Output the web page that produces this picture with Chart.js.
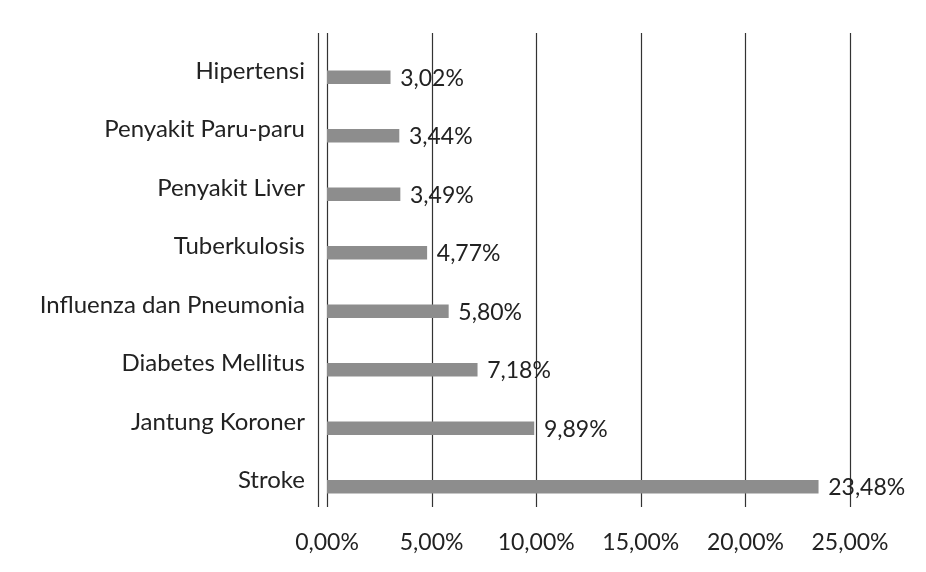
<!DOCTYPE html>
<html>
<head>
<meta charset="utf-8">
<script src="https://cdn.jsdelivr.net/npm/chart.js@4.4.1/dist/chart.umd.min.js"></script>
<style>
  html, body { margin: 0; padding: 0; background: #fff; }
  #wrap { width: 926px; height: 572px; }
</style>
</head>
<body>
<div id="wrap"><canvas id="chart" width="926" height="572"></canvas></div>
<script>
const categories = [
    "Hipertensi",
    "Penyakit Paru-paru",
    "Penyakit Liver",
    "Tuberkulosis",
    "Influenza dan Pneumonia",
    "Diabetes Mellitus",
    "Jantung Koroner",
    "Stroke",
];
const percentages = [3.02, 3.44, 3.49, 4.77, 5.80, 7.18, 9.89, 23.48];
const xTicks = [0, 5, 10, 15, 20, 25];

const FONT = "Lato, 'Open Sans', sans-serif";
const TEXT = "#222";

function fmt(v) {
    return v.toFixed(2).replace(".", ",") + "%";
}

// grid lines stick out of the plot like in the original
const gridLines = {
    id: "gridLines",
    beforeDatasetsDraw(chart) {
        const { ctx, chartArea, scales } = chart;
        const top = chartArea.top - 15;
        const bottom = chartArea.bottom - 9;
        ctx.save();
        ctx.strokeStyle = "#333";
        ctx.lineWidth = 1.2;
        for (const t of xTicks) {
            const x = Math.round(scales.x.getPixelForValue(t)) + 0.5;
            ctx.beginPath();
            ctx.moveTo(x, top);
            ctx.lineTo(x, bottom);
            ctx.stroke();
        }
        // second line just left of the axis
        const x0 = Math.round(scales.x.getPixelForValue(0)) - 8.5;
        ctx.beginPath();
        ctx.moveTo(x0, top);
        ctx.lineTo(x0, bottom);
        ctx.stroke();
        ctx.restore();
    },
};

const valueLabels = {
    id: "valueLabels",
    afterDatasetsDraw(chart) {
        const { ctx } = chart;
        const meta = chart.getDatasetMeta(0);
        ctx.save();
        ctx.font = "23px " + FONT;
        ctx.fillStyle = TEXT;
        ctx.textAlign = "left";
        ctx.textBaseline = "middle";
        meta.data.forEach((bar, i) => {
            ctx.fillText(fmt(percentages[i]), bar.x + 10, bar.y + 1);
        });
        ctx.restore();
    },
};

new Chart(document.getElementById("chart"), {
    type: "bar",
    data: {
        labels: categories,
        datasets: [{
            data: percentages,
            backgroundColor: "#8d8d8d",
            barThickness: 13,
        }],
    },
    options: {
        indexAxis: "y",
        responsive: false,
        animation: false,
        layout: { padding: { top: 48, right: 76, bottom: 0, left: 0 } },
        plugins: { legend: { display: false }, tooltip: { enabled: false } },
        scales: {
            x: {
                min: 0,
                max: 25,
                afterBuildTicks(scale) {
                    scale.ticks = xTicks.map((v) => ({ value: v }));
                },
                afterFit(scale) { scale.height = 56; },
                grid: { display: false },
                border: { display: false },
                ticks: {
                    padding: 5,
                    color: TEXT,
                    font: { family: FONT, size: 23 },
                    callback: (v) => fmt(v),
                },
            },
            y: {
                afterFit(scale) { scale.width = 327; },
                grid: { display: false },
                border: { display: false },
                ticks: {
                    padding: 14,
                    labelOffset: -6,
                    color: TEXT,
                    font: { family: FONT, size: 24 },
                },
            },
        },
    },
    plugins: [gridLines, valueLabels],
});
</script>
</body>
</html>
